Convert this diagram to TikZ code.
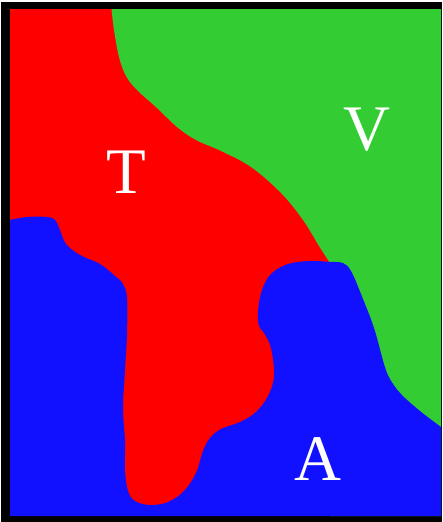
\documentclass[tikz,border=0pt]{standalone}
\usepackage{fontspec}
\setmainfont{Liberation Serif}
\definecolor{tred}{RGB}{255,0,0}
\definecolor{vgreen}{RGB}{51,204,51}
\definecolor{ablue}{RGB}{17,17,255}
\begin{document}
\begin{tikzpicture}[x=1pt, y=-1pt,
  region/.style={draw=none},
  regionlabel/.style={text=white, inner sep=0pt, anchor=base, font=\fontsize{65}{65}\selectfont}]
\useasboundingbox (0,0) rectangle (442,522);
\fill[white] (0,0) rectangle (442,522);
\fill[black] (1,2) rectangle (442,522);
% T, the whole field first
\fill[region, tred] (10,9) rectangle (441,516);
% V
\fill[region, vgreen] (441,9) -- (111.5,9)
  -- plot[smooth, tension=0.6] coordinates {(111.5,9) (114,30) (119,57) (126,76) (137,90) (157,108) (177,127) (196,140) (221,151) (251,167) (281,193) (303,220) (319,246) (330,263)}
  -- (330,516) -- (441,516) -- cycle;
% A
\fill[region, ablue] (10,220)
  -- plot[smooth, tension=0.6] coordinates {(10,220) (27,217) (47,217) (55,220) (60,230) (66,244) (80,255) (100,264) (115,276) (123,284) (127,298) (127,334) (125,370) (123,408) (125,441) (125,470) (128,491) (135,501) (150,505) (168,502) (184,491) (196,473) (203,451) (210,438) (221,429) (240,422) (256,412) (268,396) (274,376) (271,348) (264,333) (259,326) (258,311) (262,290) (271,274) (288,264) (310,261) (330,262)}
  -- plot[smooth, tension=0.6] coordinates {(330,262) (343,263) (351,271) (361,294) (374,328) (384,364) (390,379) (401,394) (420,411) (441,427)}
  -- (441,516) -- (10,516) -- cycle;
\node[regionlabel] (T) at (126,193) {T};
\node[regionlabel] (V) at (367,150) {V};
\node[regionlabel] (A) at (318,480) {A};
\end{tikzpicture}
\end{document}
